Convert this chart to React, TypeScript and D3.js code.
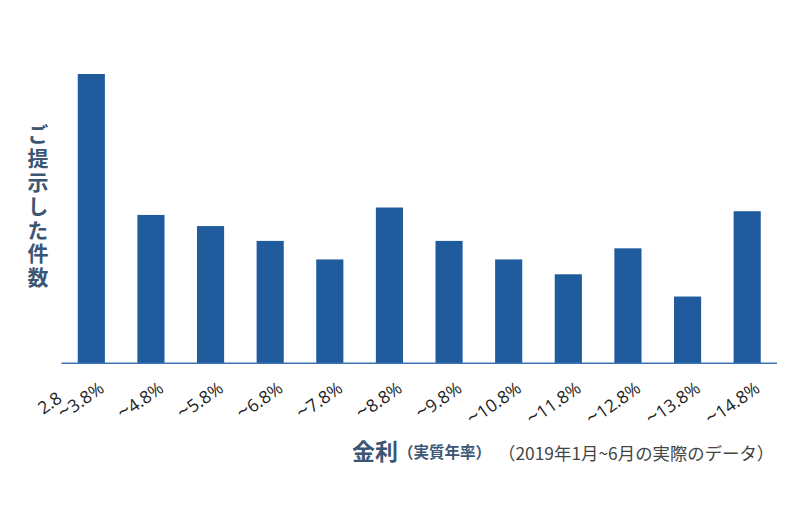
import React from "react";
import * as d3 from "d3";

const categories = ["~3.8%", "~4.8%", "~5.8%", "~6.8%", "~7.8%", "~8.8%", "~9.8%", "~10.8%", "~11.8%", "~12.8%", "~13.8%", "~14.8%"];
const firstPrefix = "2.8";
const values = [78, 40, 37, 33, 28, 42, 33, 28, 24, 31, 18, 41];
const yTitle = "ご提示した件数";
const xTitleMain = "金利";
const xTitleSub = "（実質年率）";
const xNote = "（2019年1月~6月の実際のデータ）";

const W = 800;
const H = 532;
const BAR = "#1f5b9d";
const AXIS = "#3e74b3";

export default function App() {
  const x = d3
    .scaleBand<string>()
    .domain(categories)
    .range([61.5, 777])
    .paddingInner(0.545)
    .paddingOuter(0.2725);
  const y = d3.scaleLinear().domain([0, 78]).range([363.3, 74]);
  const font = "'Noto Sans CJK JP', 'Noto Sans', sans-serif";
  const labelFont = "'Open Sans', 'Noto Sans', sans-serif";

  return (
    <svg width={W} height={H} style={{ position: "absolute", left: 0, top: 0 }} fontFamily={font}>
      <rect width={W} height={H} fill="#fff" />
      {categories.map((c, i) => (
        <rect
          key={c}
          x={x(c)}
          y={y(values[i])}
          width={x.bandwidth()}
          height={y(0) - y(values[i])}
          fill={BAR}
        />
      ))}
      <line x1={61.5} x2={777} y1={y(0)} y2={y(0)} stroke={AXIS} strokeWidth={1.5} />
      {categories.map((c) => {
        const cx = (x(c) as number) + x.bandwidth() / 2;
        return (
          <text
            key={"l" + c}
            transform={`translate(${cx + 14},${391}) rotate(-35)`}
            textAnchor="end"
            fontFamily={labelFont}
            fontSize={17.5}
            fill="#222"
          >
            {Array.from(c).map((ch, k) =>
              ch === "~" ? (
                <tspan key={k} fontSize={21}>
                  {ch}
                </tspan>
              ) : (
                <tspan key={k}>{ch}</tspan>
              )
            )}
          </text>
        );
      })}
      {(() => {
        const cx = (x(categories[0]) as number) + x.bandwidth() / 2;
        return (
          <text
            transform={`translate(${cx - 28},${401}) rotate(-35)`}
            textAnchor="end"
            fontFamily={labelFont}
            fontSize={17.5}
            fill="#222"
          >
            {firstPrefix}
          </text>
        );
      })()}
      <text
        x={38}
        y={124}
        fontSize={21}
        fontWeight="bold"
        fill="#3b5674"
        letterSpacing={2.8}
        style={{ writingMode: "vertical-rl" }}
      >
        {yTitle}
      </text>
      <text x={352} y={460} fontSize={23} fontWeight="bold" fill="#3b5674">
        {xTitleMain}
      </text>
      <text x={398} y={458} fontSize={15.5} fontWeight="bold" fill="#3b5674">
        {xTitleSub}
      </text>
      <text x={498} y={460} fontSize={17.4} fill="#444">
        {xNote}
      </text>
    </svg>
  );
}
